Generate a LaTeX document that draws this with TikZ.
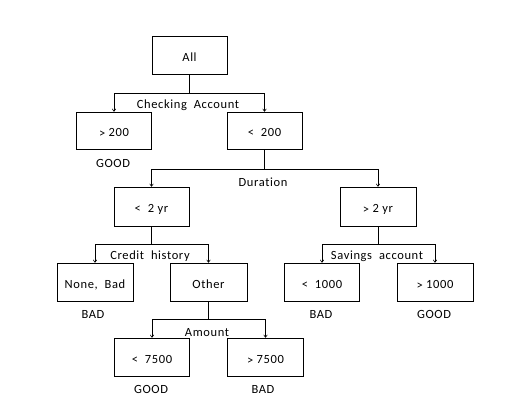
\documentclass[tikz,border=0pt]{standalone}
\usepackage{fontspec}
\setmainfont{Carlito}[LetterSpace=5,RawFeature=-liga]
\usetikzlibrary{arrows.meta}
\begin{document}
\begin{tikzpicture}[x=1pt,y=-1pt,
  box/.style={draw,line width=0.7pt,minimum width=75pt,minimum height=38pt,inner sep=0pt,text height=12.5pt,text depth=0pt,font=\fontsize{12.5}{13}\selectfont},
  lbl/.style={inner sep=0pt,font=\fontsize{12.5}{13}\selectfont},
  arr/.style={line width=0.6pt,-{To[length=3pt,width=4pt]}}]
\useasboundingbox (0,0) rectangle (505,419);
\node[box] (all) at (189.5,55) {All};
\node[box,minimum height=37pt] (gt200) at (114,130.5) {\raisebox{-1pt}{>} 200};
\node[box,minimum height=37pt] (lt200) at (264.5,130.5) {<\ \ 200};
\node[box,minimum height=39pt] (lt2) at (151.5,206.5) {<\ \ 2 yr};
\node[box,minimum height=39pt,minimum width=76pt] (gt2) at (378,206.5) {\raisebox{-1pt}{>} 2 yr};
\node[box,minimum width=76pt] (none) at (95,282) {None,\ \ Bad};
\node[box,minimum width=77pt] (other) at (208.5,282) {Other};
\node[box] (lt1000) at (322,282) {<\ \ 1000};
\node[box,minimum width=76pt] (gt1000) at (435,282) {\raisebox{-1pt}{>} 1000};
\node[box] (lt7500) at (152,357) {<\ \ 7500};
\node[box,minimum width=76pt] (gt7500) at (265.5,357) {\raisebox{-1pt}{>} 7500};
% outcome labels
\node[lbl] (g1) at (113,163) {GOOD};
\node[lbl] (b1) at (93,314) {BAD};
\node[lbl] (b2) at (321,314) {BAD};
\node[lbl] (g2) at (434,314) {GOOD};
\node[lbl] (g3) at (151,389) {GOOD};
\node[lbl] (b3) at (263,389) {BAD};
% split labels
\node[lbl] (l1) at (188,105) {Checking\ \ Account};
\node[lbl] (l2) at (263,182) {Duration};
\node[lbl] (l3) at (150,256) {Credit\ \ history};
\node[lbl] (l4) at (377,256) {Savings\ \ account};
\node[lbl] (l5) at (207,333) {Amount};
% fork coordinates
\coordinate (f1) at (189.5,93);
\coordinate (f2) at (264.5,169);
\coordinate (f3) at (151.5,244);
\coordinate (f4) at (378,244);
\coordinate (f5) at (208.5,319);
% connectors
\draw[line width=0.6pt] (all.south) -- (f1);
\draw[arr] (f1) -| (gt200.north);
\draw[arr] (f1) -| (lt200.north);
\draw[line width=0.6pt] (lt200.south) -- (f2);
\draw[arr] (f2) -| (lt2.north);
\draw[arr] (f2) -| (gt2.north);
\draw[line width=0.6pt] (lt2.south) -- (f3);
\draw[arr] (f3) -| (none.north);
\draw[arr] (f3) -| (other.north);
\draw[line width=0.6pt] (gt2.south) -- (f4);
\draw[arr] (f4) -| (lt1000.north);
\draw[arr] (f4) -| (gt1000.north);
\draw[line width=0.6pt] (other.south) -- (f5);
\draw[arr] (f5) -| (lt7500.north);
\draw[arr] (f5) -| (gt7500.north);
\end{tikzpicture}
\end{document}
